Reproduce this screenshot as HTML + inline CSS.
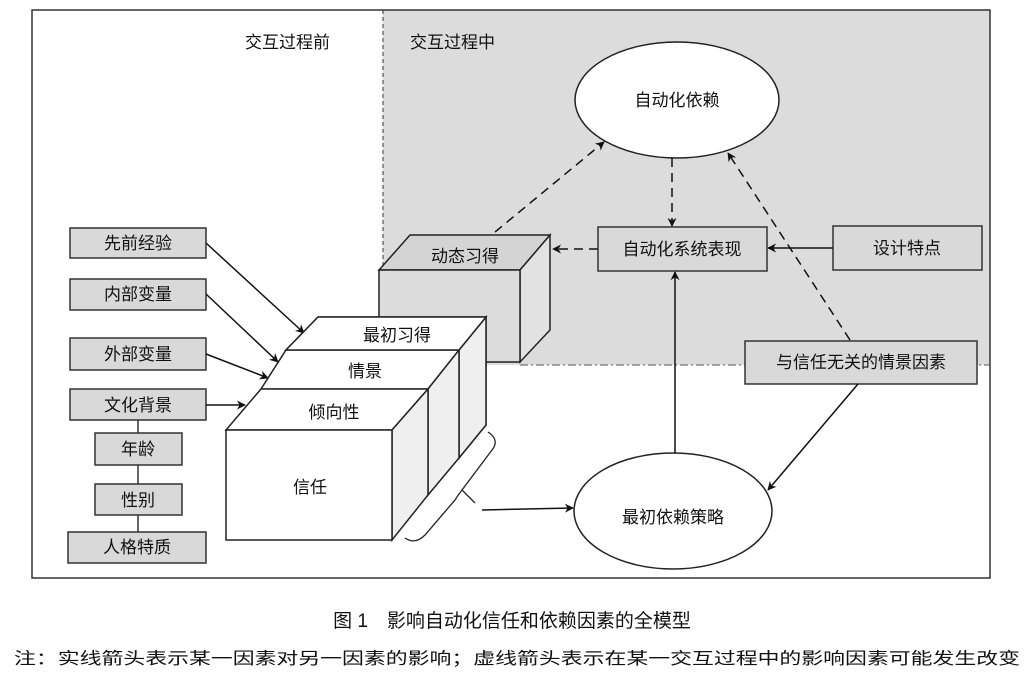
<!DOCTYPE html>
<html><head><meta charset="utf-8"><style>
body{margin:0;background:#fff;width:1035px;height:681px;overflow:hidden}
svg text{font-family:"Liberation Sans","Noto Sans CJK SC",sans-serif;fill:#111}
</style></head><body>
<svg width="1035" height="681" viewBox="0 0 1035 681" xmlns="http://www.w3.org/2000/svg">
<defs><marker id="a" viewBox="0 0 10 10" refX="9" refY="5" markerWidth="9" markerHeight="9" orient="auto" markerUnits="userSpaceOnUse"><path d="M0,0 L10,5 L0,10 L3,5z" fill="#111"/></marker></defs>
<rect x="383" y="10" width="607" height="355" fill="#dcdcdc"/>
<rect x="32" y="10" width="958" height="568" fill="none" stroke="#333" stroke-width="1.5"/>
<line x1="383" y1="10" x2="383" y2="365" stroke="#333" stroke-dasharray="4,3"/>
<line x1="520" y1="365" x2="990" y2="365" stroke="#555" stroke-dasharray="8,3,2,3"/>
<text x="245" y="48" font-size="17">交互过程前</text>
<text x="410" y="48" font-size="17">交互过程中</text>
<g fill="#d9d9d9" stroke="#333" stroke-width="1.5">
<rect x="70" y="228" width="136" height="30"/><rect x="70" y="279" width="136" height="31"/>
<rect x="70" y="338" width="136" height="32"/><rect x="70" y="389" width="136" height="31"/>
<rect x="95" y="433" width="87" height="32"/><rect x="95" y="484" width="87" height="31"/>
<rect x="68" y="532" width="138" height="31"/>
</g>
<g stroke="#333" stroke-width="1.5"><line x1="138" y1="420" x2="138" y2="433"/><line x1="138" y1="465" x2="138" y2="484"/><line x1="138" y1="515" x2="138" y2="532"/></g>
<g font-size="17" text-anchor="middle">
<text x="138" y="249">先前经验</text><text x="138" y="300">内部变量</text><text x="138" y="360">外部变量</text><text x="138" y="411">文化背景</text>
<text x="138" y="455">年龄</text><text x="138" y="506">性别</text><text x="137" y="553">人格特质</text></g>
<g stroke="#111" stroke-width="1.5" fill="none" marker-end="url(#a)">
<line x1="206" y1="243" x2="304" y2="333"/><line x1="206" y1="294" x2="278" y2="362"/>
<line x1="206" y1="354" x2="268" y2="378"/><line x1="206" y1="405" x2="245" y2="405"/>
</g>
<!-- dynamic learning box -->
<g stroke="#222" stroke-width="1.5">
<polygon points="379,270 410,235 550,235 520,270" fill="#d4d4d4"/>
<polygon points="520,270 550,235 550,330 520,362" fill="#e2e2e2"/>
<rect x="379" y="270" width="141" height="92" fill="#dcdcdc"/>
</g>
<text x="465" y="262" font-size="17" text-anchor="middle">动态习得</text>
<!-- big layered box -->
<g stroke="#222" stroke-width="1.5">
<polygon points="318,317 486,317 486,425 459,458 459,350 286,350" fill="#fff"/>
<polygon points="459,350 486,317 486,425 459,458" fill="#efefef"/>
<polygon points="286,350 459,350 428,389 261,389" fill="#fff"/>
<polygon points="428,389 459,350 459,458 428,495" fill="#efefef"/>
<polygon points="261,389 428,389 392,430 226,430" fill="#fff"/>
<polygon points="392,430 428,389 428,495 392,540" fill="#efefef"/>
<rect x="226" y="430" width="166" height="110" fill="#fff"/>
<polygon points="318,317 486,317 459,350 286,350" fill="#fff"/>
</g>
<g font-size="17" text-anchor="middle">
<text x="397" y="341">最初习得</text><text x="365" y="377">情景</text><text x="334" y="418">倾向性</text><text x="310" y="493">信任</text></g>
<path d="M488,432 Q500,440 492,450 L462,490 L475,503 M462,490 Q458,495 455,500 L425,535 Q415,545 405,538" fill="none" stroke="#222" stroke-width="1.3"/>
<line x1="482" y1="510" x2="573" y2="508" stroke="#111" stroke-width="1.5" marker-end="url(#a)"/>
<!-- right side -->
<ellipse cx="677" cy="100" rx="102" ry="58" fill="#fff" stroke="#222" stroke-width="1.5"/>
<text x="677" y="106" font-size="17" text-anchor="middle">自动化依赖</text>
<ellipse cx="673" cy="511" rx="99" ry="58" fill="#fff" stroke="#222" stroke-width="1.5"/>
<text x="673" y="523" font-size="17" text-anchor="middle">最初依赖策略</text>
<g fill="#d9d9d9" stroke="#333" stroke-width="1.5">
<rect x="598" y="227" width="169" height="44"/><rect x="833" y="226" width="149" height="44"/>
<rect x="745" y="341" width="232" height="43"/></g>
<g font-size="17" text-anchor="middle">
<text x="682" y="255">自动化系统表现</text><text x="907" y="254">设计特点</text><text x="861" y="368">与信任无关的情景因素</text></g>
<g stroke="#111" stroke-width="1.5" fill="none" marker-end="url(#a)">
<line x1="833" y1="248" x2="768" y2="248"/>
<line x1="675" y1="453" x2="675" y2="272"/>
<line x1="858" y1="384" x2="768" y2="490"/>
</g>
<g stroke="#111" stroke-width="1.5" fill="none" stroke-dasharray="9,6" marker-end="url(#a)">
<line x1="672" y1="158" x2="672" y2="226"/>
<line x1="598" y1="249" x2="553" y2="249"/>
<line x1="495" y1="232" x2="604" y2="142"/>
<line x1="850" y1="340" x2="728" y2="153"/>
</g>
<text x="512" y="627" font-size="19" text-anchor="middle">图 1　影响自动化信任和依赖因素的全模型</text>
<text x="14" y="664" font-size="16.5" textLength="1006" lengthAdjust="spacingAndGlyphs">注：实线箭头表示某一因素对另一因素的影响；虚线箭头表示在某一交互过程中的影响因素可能发生改变</text>
</svg>
</body></html>
